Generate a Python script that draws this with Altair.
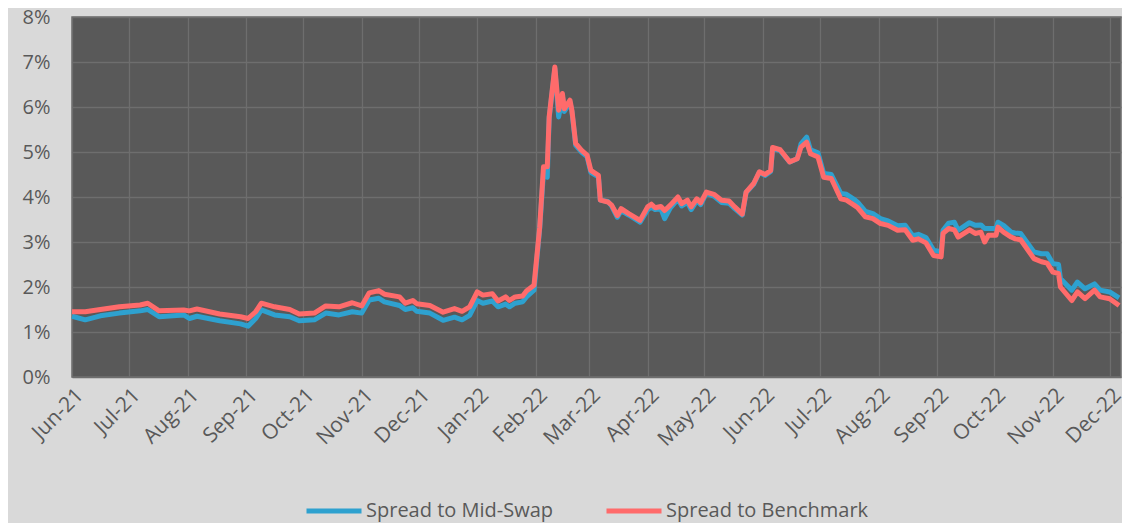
import altair as alt
import pandas as pd

dates = [
    "2021-06-01", "2021-06-08", "2021-06-16", "2021-06-26", "2021-07-07", "2021-07-11", "2021-07-17",
    "2021-07-30", "2021-08-02", "2021-08-06", "2021-08-18", "2021-08-29", "2021-09-02", "2021-09-06",
    "2021-09-09", "2021-09-16", "2021-09-24", "2021-09-29", "2021-10-07", "2021-10-13", "2021-10-20",
    "2021-10-27", "2021-11-01", "2021-11-05", "2021-11-10", "2021-11-13", "2021-11-21", "2021-11-24",
    "2021-11-28", "2021-11-30", "2021-12-07", "2021-12-14", "2021-12-20", "2021-12-24", "2021-12-28",
    "2022-01-01", "2022-01-04", "2022-01-09", "2022-01-12", "2022-01-16", "2022-01-18", "2022-01-21",
    "2022-01-25", "2022-01-27", "2022-01-31",
    "2022-02-03", "2022-02-05", "2022-02-07", "2022-02-08", "2022-02-11", "2022-02-13", "2022-02-15",
    "2022-02-16", "2022-02-19", "2022-02-20", "2022-02-22", "2022-02-25", "2022-02-28",
    "2022-03-02", "2022-03-06", "2022-03-07", "2022-03-11", "2022-03-13", "2022-03-16", "2022-03-18",
    "2022-03-22", "2022-03-28",
    "2022-04-01", "2022-04-03", "2022-04-05", "2022-04-08", "2022-04-10", "2022-04-13", "2022-04-17",
    "2022-04-19", "2022-04-22", "2022-04-24", "2022-04-27", "2022-04-29",
    "2022-05-02", "2022-05-06", "2022-05-10", "2022-05-14", "2022-05-17", "2022-05-21", "2022-05-23",
    "2022-05-27", "2022-05-30",
    "2022-06-02", "2022-06-05", "2022-06-06", "2022-06-10", "2022-06-15", "2022-06-19", "2022-06-21",
    "2022-06-24", "2022-06-26", "2022-06-30",
    "2022-07-03", "2022-07-07", "2022-07-12", "2022-07-15", "2022-07-19", "2022-07-21", "2022-07-25",
    "2022-07-29",
    "2022-08-02", "2022-08-06", "2022-08-11", "2022-08-15", "2022-08-19", "2022-08-22", "2022-08-26",
    "2022-08-30",
    "2022-09-03", "2022-09-04", "2022-09-07", "2022-09-10", "2022-09-12", "2022-09-18", "2022-09-21",
    "2022-09-24", "2022-09-26", "2022-09-28",
    "2022-10-02", "2022-10-03", "2022-10-06", "2022-10-10", "2022-10-12", "2022-10-15", "2022-10-22",
    "2022-10-26", "2022-10-29",
    "2022-11-01", "2022-11-04", "2022-11-05", "2022-11-11", "2022-11-14", "2022-11-18", "2022-11-23",
    "2022-11-26",
    "2022-12-01", "2022-12-06",
]

benchmark = [
    1.45, 1.45, 1.50, 1.56, 1.60, 1.64, 1.47, 1.49, 1.47, 1.51, 1.40, 1.34, 1.30, 1.45,
    1.64, 1.56, 1.50, 1.40, 1.42, 1.58, 1.56, 1.65, 1.58, 1.87, 1.92, 1.84, 1.78, 1.64,
    1.70, 1.63, 1.59, 1.44, 1.52, 1.46, 1.56,
    1.89, 1.82, 1.85, 1.69, 1.78, 1.70, 1.78, 1.80, 1.91, 2.04,
    3.33, 4.67, 4.67, 5.78, 6.89, 5.93, 6.30, 5.96, 6.15, 5.93, 5.19, 5.04, 4.93,
    4.59, 4.48, 3.93, 3.89, 3.82, 3.59, 3.74, 3.63, 3.48,
    3.78, 3.84, 3.76, 3.79, 3.70, 3.82, 4.00, 3.85, 3.93, 3.78, 3.96, 3.87,
    4.11, 4.06, 3.93, 3.91, 3.78, 3.62, 4.11, 4.30, 4.56,
    4.50, 4.59, 5.10, 5.05, 4.78, 4.85, 5.11, 5.22, 4.96, 4.89,
    4.44, 4.41, 3.96, 3.93, 3.82, 3.76, 3.56, 3.52,
    3.41, 3.37, 3.26, 3.27, 3.04, 3.07, 2.98, 2.70,
    2.67, 3.19, 3.30, 3.27, 3.11, 3.27, 3.19, 3.22, 3.00, 3.15,
    3.15, 3.33, 3.22, 3.11, 3.07, 3.05, 2.63, 2.56, 2.53,
    2.33, 2.30, 2.00, 1.70, 1.89, 1.74, 1.93, 1.78,
    1.74, 1.59,
]

midswap = [
    1.35, 1.27, 1.36, 1.42, 1.47, 1.50, 1.34, 1.38, 1.30, 1.35, 1.25, 1.18, 1.13, 1.30,
    1.49, 1.38, 1.34, 1.25, 1.27, 1.42, 1.38, 1.45, 1.42, 1.71, 1.75, 1.67, 1.59, 1.50,
    1.54, 1.46, 1.42, 1.26, 1.33, 1.27, 1.37,
    1.70, 1.64, 1.69, 1.56, 1.62, 1.56, 1.64, 1.67, 1.78, 1.93,
    3.30, 4.55, 4.44, 5.75, 6.85, 5.78, 6.25, 5.90, 6.10, 5.90, 5.15, 5.00, 4.90,
    4.55, 4.45, 3.93, 3.90, 3.80, 3.55, 3.70, 3.60, 3.44,
    3.72, 3.78, 3.72, 3.74, 3.52, 3.76, 3.95, 3.80, 3.88, 3.72, 3.92, 3.83,
    4.08, 4.02, 3.88, 3.86, 3.74, 3.60, 4.10, 4.28, 4.55,
    4.48, 4.57, 5.08, 5.03, 4.78, 4.85, 5.18, 5.33, 5.05, 4.98,
    4.52, 4.50, 4.08, 4.06, 3.95, 3.88, 3.68, 3.63,
    3.52, 3.47, 3.36, 3.37, 3.14, 3.17, 3.10, 2.82,
    2.78, 3.26, 3.42, 3.44, 3.26, 3.43, 3.37, 3.38, 3.30, 3.30,
    3.30, 3.44, 3.37, 3.22, 3.20, 3.19, 2.78, 2.74, 2.74,
    2.52, 2.50, 2.19, 1.93, 2.11, 1.96, 2.07, 1.93,
    1.89, 1.76,
]

series_names = ["Spread to Mid-Swap", "Spread to Benchmark"]
series_colors = ["#2ea1cf", "#ff6b6b"]
y_ticks = [0, 1, 2, 3, 4, 5, 6, 7, 8]

df = pd.concat([
    pd.DataFrame({"date": dates, "value": midswap, "series": series_names[0], "ord": 0}),
    pd.DataFrame({"date": dates, "value": benchmark, "series": series_names[1], "ord": 1}),
], ignore_index=True)

FONT = "Open Sans"
TXT = "#595959"

chart = alt.Chart(df).mark_line(strokeWidth=5, strokeJoin="round").encode(
    x=alt.X(
        "date:T",
        scale=alt.Scale(
            type="utc",
            domain=[alt.DateTime(year=2021, month=6, date=1, utc=True),
                    alt.DateTime(year=2022, month=12, date=7, utc=True)],
            nice=False,
        ),
        axis=alt.Axis(
            title=None, format="%b-%y", tickCount={"interval": "month", "step": 1},
            labelAngle=-45, labelAlign="right", labelBaseline="top", labelPadding=7,
            labelOverlap=False, labelFontSize=21, labelColor=TXT, labelFont=FONT,
            ticks=False, domain=False, grid=True, gridColor="#6e6e6e", gridWidth=1.3,
        ),
    ),
    y=alt.Y(
        "value:Q",
        scale=alt.Scale(domain=[0, 8], nice=False),
        axis=alt.Axis(
            title=None, values=y_ticks, labelExpr="datum.value + '%'",
            labelFontSize=20, labelColor=TXT, labelFont=FONT, labelPadding=22,
            ticks=False, domain=False, grid=True, gridColor="#6e6e6e", gridWidth=1.3,
        ),
    ),
    color=alt.Color(
        "series:N",
        scale=alt.Scale(domain=series_names, range=series_colors),
        sort=series_names,
        legend=alt.Legend(
            title=None, orient="none", direction="horizontal", legendX=232, legendY=464,
            symbolType="stroke", symbolSize=3025, symbolStrokeWidth=5,
            labelFontSize=20, labelColor=TXT, labelFont=FONT, labelOffset=2,
            columnPadding=42, labelLimit=400,
        ),
    ),
    order=alt.Order("ord:Q"),
).properties(
    width=1049, height=360,
    background="#d9d9d9",
    padding={"left": 64, "top": 9, "right": 1, "bottom": 146},
    autosize=alt.AutoSizeParams(type="none"),
).configure_view(
    fill="#595959", stroke="#707070", strokeWidth=1.5,
)

chart.save("out.html", embed_options={"renderer": "svg", "actions": False})
